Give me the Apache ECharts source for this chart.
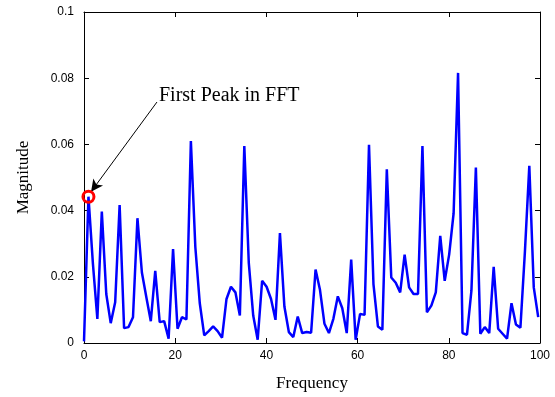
<!DOCTYPE html>
<html>
<head>
<meta charset="utf-8">
<script src="https://cdn.jsdelivr.net/npm/echarts@6/dist/echarts.min.js"></script>
<style>
html,body{margin:0;padding:0;background:#fff;}
#chart{width:555px;height:397px;}
</style>
</head>
<body>
<div id="chart"></div>
<script>
// FFT magnitude per frequency bin (bin spacing = sampleRate / fftLength)
const sampleRate = 1000;
const fftLength = 1024;
const magnitude = [
  0.0005, 0.0442, 0.024, 0.0073, 0.0397, 0.0148, 0.006, 0.0123, 0.0417, 0.0045,
  0.0048, 0.0078, 0.0377, 0.0213, 0.0138, 0.0066, 0.0218, 0.0063, 0.0066, 0.0013,
  0.0284, 0.0043, 0.0078, 0.0071, 0.061, 0.029, 0.012, 0.0023, 0.0036, 0.005,
  0.0036, 0.0016, 0.0133, 0.017, 0.0153, 0.0083, 0.0595, 0.0243, 0.0083, 0.001,
  0.0188, 0.017, 0.0133, 0.007, 0.0332, 0.011, 0.0033, 0.0018, 0.008, 0.003,
  0.0033, 0.0031, 0.0222, 0.016, 0.0058, 0.003, 0.0073, 0.0141, 0.0105, 0.003,
  0.0252, 0.001, 0.0088, 0.0085, 0.0599, 0.0178, 0.005, 0.004, 0.0525, 0.0198,
  0.0182, 0.0153, 0.0267, 0.0168, 0.0148, 0.0148, 0.0595, 0.0093, 0.0113, 0.0153,
  0.0324, 0.0188, 0.0267, 0.0392, 0.0816, 0.003, 0.0025, 0.0158, 0.053, 0.0028,
  0.0048, 0.003, 0.023, 0.0043, 0.0028, 0.0013, 0.012, 0.0056, 0.0046, 0.0273,
  0.0535, 0.0168, 0.0078
];
const frequencies = magnitude.map((_, k) => k * sampleRate / fftLength);
const xTicks = [0, 20, 40, 60, 80, 100];
const yTicks = [0, 0.02, 0.04, 0.06, 0.08, 0.1];
const annotationText = 'First Peak in FFT';
const peakIndex = 1;
const arrowStart = [16.0, 0.0728];
const arrowEnd = [1.55, 0.0457];

const seriesData = frequencies.map((f, i) => [f, magnitude[i]]);

const chart = echarts.init(document.getElementById('chart'), null, {renderer: 'canvas'});
const axisLine = {show: true, onZero: false, lineStyle: {color: '#000', width: 1}};
const tick = {show: true, inside: true, length: 5, lineStyle: {color: '#000', width: 1}};
const labelFont = {color: '#000', fontFamily: 'Liberation Sans', fontSize: 12};

chart.setOption({
  animation: false,
  backgroundColor: '#fff',
  grid: {left: 84, right: 15, top: 12, bottom: 51, containLabel: false},
  xAxis: [
    {
      type: 'value', min: xTicks[0], max: xTicks[xTicks.length - 1], interval: 20,
      name: 'Frequency', nameLocation: 'middle', nameGap: 32,
      nameTextStyle: {color: '#000', fontFamily: 'Liberation Serif', fontSize: 17},
      axisLine, axisTick: tick, splitLine: {show: false},
      axisLabel: Object.assign({margin: 7}, labelFont)
    },
    {
      type: 'value', position: 'top', min: xTicks[0], max: xTicks[xTicks.length - 1], interval: 20,
      axisLine, axisTick: tick, splitLine: {show: false}, axisLabel: {show: false}
    }
  ],
  yAxis: [
    {
      type: 'value', min: yTicks[0], max: yTicks[yTicks.length - 1], interval: 0.02,
      name: 'Magnitude', nameLocation: 'middle', nameGap: 52,
      nameTextStyle: {color: '#000', fontFamily: 'Liberation Serif', fontSize: 17},
      axisLine, axisTick: tick, splitLine: {show: false},
      axisLabel: Object.assign({margin: 10}, labelFont)
    },
    {
      type: 'value', position: 'right', min: yTicks[0], max: yTicks[yTicks.length - 1], interval: 0.02,
      axisLine, axisTick: tick, splitLine: {show: false}, axisLabel: {show: false}
    }
  ],
  series: [
    {
      type: 'line',
      data: seriesData,
      showSymbol: false,
      clip: true,
      lineStyle: {color: '#0000ff', width: 2.5},
      itemStyle: {color: '#0000ff'},
      markPoint: {
        silent: true,
        data: [
          {
            coord: seriesData[peakIndex],
            symbol: 'circle', symbolSize: 11,
            itemStyle: {color: 'rgba(0,0,0,0)', borderColor: '#ff0000', borderWidth: 3},
            label: {show: false}
          },
          {
            coord: arrowStart,
            symbol: 'circle', symbolSize: 0,
            label: {
              show: true, position: 'right', distance: 2, offset: [0, -6],
              formatter: annotationText,
              color: '#000', fontFamily: 'Liberation Serif', fontSize: 20
            }
          }
        ]
      },
      markLine: {
        silent: true,
        animation: false,
        symbol: ['none', 'arrow'],
        symbolSize: [9, 12],
        label: {show: false},
        lineStyle: {color: '#000', width: 1, type: 'solid'},
        data: [[{coord: arrowStart}, {coord: arrowEnd}]]
      }
    }
  ]
});
</script>
</body>
</html>
